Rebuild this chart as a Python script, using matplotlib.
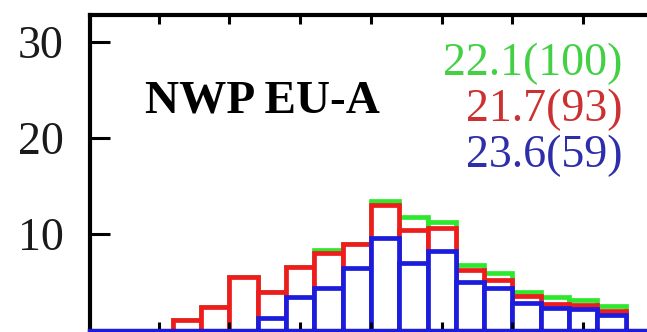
import matplotlib.pyplot as plt

# Histogram bins: lower edges, width 2
bin_lo = [6, 8, 10, 12, 14, 16, 18, 20, 22, 24, 26, 28, 30, 32, 34, 36]

# Percent of cases per bin for each sample
green_pct = [1.1, 2.4, 5.6, 4.0, 6.6, 8.4, 9.0, 13.5, 11.8, 11.25, 6.8, 6.0, 4.05, 3.5, 3.2, 2.5]
red_pct = [1.1, 2.4, 5.6, 4.0, 6.6, 8.1, 9.0, 13.0, 10.4, 10.6, 6.25, 5.2, 3.6, 2.8, 2.7, 2.0]
blue_pct = [0, 0, 0, 1.3, 3.5, 4.4, 6.45, 9.6, 7.0, 8.3, 5.0, 4.4, 2.9, 2.3, 2.2, 1.6]

# mean(total %) shown in the corner
stats = ['22.1(100)', '21.7(93)', '23.6(59)']
title = 'NWP EU-A'

serif = 'Liberation Serif'
bar_cols = ['#2ee82e', '#ee1c1c', '#1c1cdc']
txt_cols = ['#44d044', '#cc3030', '#2e2eaa']

fig = plt.figure(figsize=(6.47, 3.32), dpi=100)
ax = fig.add_axes([0.1391, 0.0045, 0.959, 0.9514])

for vals, col in zip([green_pct, red_pct, blue_pct], bar_cols):
    ax.bar(bin_lo, vals, width=2, align='edge', facecolor='white',
           edgecolor=col, linewidth=3.4)

ax.axhline(0, color=bar_cols[2], lw=3.8, clip_on=False, zorder=3)

ax.set_xlim(0.14, 44)
ax.set_ylim(0, 32.8)
ax.set_yticks([10, 20, 30])
ax.set_xticks([5, 10, 15, 20, 25, 30, 35])

for side in ['left', 'top', 'bottom', 'right']:
    ax.spines[side].set_linewidth(3)
ax.tick_params(axis='y', direction='in', length=14.5, width=2.2, pad=19,
               labelsize=33, labelfontfamily=serif, labelcolor='#1a1a1a')
ax.tick_params(axis='x', direction='in', length=6.5, width=2.2,
               top=True, labelbottom=False)

ax.text(4.0, 22.6, title, fontsize=34, fontweight='bold',
        family=serif, va='baseline', ha='left')
for s, y, col in zip(stats, [26.5, 21.75, 17.0], txt_cols):
    ax.text(37.8, y, s, fontsize=33, family=serif, color=col,
            ha='right', va='baseline')

fig.savefig('out.png', dpi=100)
